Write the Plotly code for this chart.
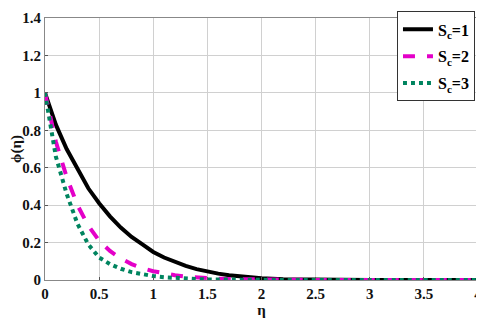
import plotly.graph_objects as go

# eta grid and phi(eta) profiles
eta = [0, 0.1, 0.2, 0.3, 0.4, 0.5, 0.6, 0.7, 0.8, 0.9, 1.0, 1.1, 1.2, 1.3, 1.4,
       1.5, 1.6, 1.7, 1.8, 1.9, 2.0, 2.2, 2.5, 3.0, 3.5, 4.0]
phi_sc1 = [1, 0.83, 0.70, 0.59, 0.49, 0.41, 0.34, 0.28, 0.23, 0.19, 0.15, 0.12, 0.095,
           0.075, 0.058, 0.045, 0.034, 0.025, 0.018, 0.013, 0.009, 0.004, 0.001, 0, 0, 0]
phi_sc2 = [1, 0.74, 0.55, 0.40, 0.29, 0.21, 0.155, 0.115, 0.085, 0.063, 0.047, 0.034,
           0.025, 0.018, 0.013, 0.009, 0.007, 0.005, 0.004, 0.003, 0.002, 0.001, 0, 0, 0, 0]
phi_sc3 = [1, 0.66, 0.46, 0.30, 0.19, 0.12, 0.085, 0.06, 0.042, 0.03, 0.021, 0.015,
           0.01, 0.007, 0.005, 0.003, 0.002, 0.002, 0.001, 0.001, 0.001, 0, 0, 0, 0, 0]

x_ticks = [0, 0.5, 1, 1.5, 2, 2.5, 3, 3.5, 4]
x_labels = ["0", "0.5", "1", "1.5", "2", "2.5", "3", "3.5", "4"]
y_ticks = [0, 0.2, 0.4, 0.6, 0.8, 1, 1.2, 1.4]
y_labels = ["0", "0.2", "0.4", "0.6", "0.8", "1", "1.2", "1.4"]

names = ["S<sub>c</sub>=1", "S<sub>c</sub>=2", "S<sub>c</sub>=3"]
colors = ["#000000", "#e400c8", "#00845f"]
dashes = ["solid", "dash", "dot"]

fig = go.Figure()
for ys, name, c, d in zip([phi_sc1, phi_sc2, phi_sc3], names, colors, dashes):
    fig.add_trace(go.Scatter(x=eta, y=ys, mode="lines", name=name, legendgroup=name,
                             line=dict(color=c, width=4, dash=d)))

tick_font = dict(family="Liberation Serif", size=15, color="#111", weight="bold")
# the page body adds an 8px margin, so the figure is a little smaller than the window
fig.update_layout(
    width=476, height=310,
    margin=dict(l=34, r=4, t=2, b=38),
    paper_bgcolor="white", plot_bgcolor="white",
    font=tick_font,
    showlegend=True,
    legend=dict(x=0.993, y=1.025, xanchor="right", yanchor="top",
                bordercolor="#333", borderwidth=1, bgcolor="white",
                font=dict(family="Liberation Serif", size=16, color="#000"),
                tracegroupgap=3, itemwidth=30),
)
fig.update_xaxes(range=[0, 4], tickvals=x_ticks, ticktext=x_labels, tickfont=tick_font,
                 ticklabeloverflow="allow",
                 showgrid=True, gridcolor="#d0d0d0", gridwidth=1,
                 showline=True, linecolor="#888", mirror=True, ticks="inside", ticklen=3,
                 tickcolor="#555", zeroline=False,
                 title=dict(text="η", font=dict(family="Liberation Serif", size=15), standoff=0))
fig.update_yaxes(range=[0, 1.4], tickvals=y_ticks, ticktext=y_labels, tickfont=tick_font,
                 ticklabeloverflow="allow",
                 showgrid=True, gridcolor="#d0d0d0", gridwidth=1,
                 showline=True, linecolor="#888", mirror=True, ticks="inside", ticklen=3,
                 tickcolor="#555", zeroline=False,
                 title=dict(text="ϕ(η)", font=dict(family="Liberation Serif", size=15), standoff=2))

fig.write_html("out.html")
